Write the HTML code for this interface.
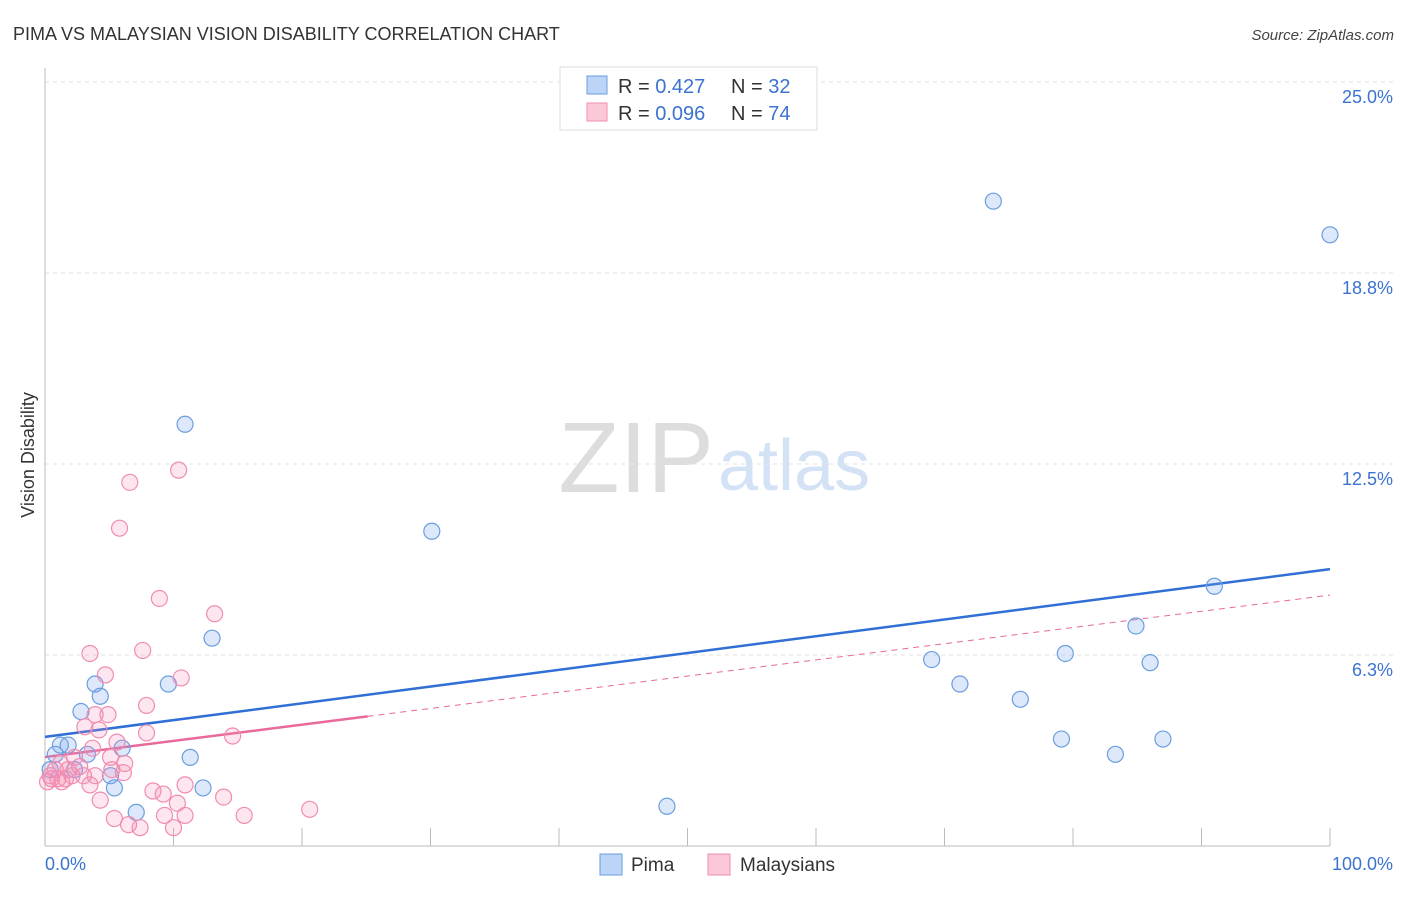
<!DOCTYPE html>
<html><head><meta charset="utf-8"><style>
body{margin:0;background:#fff;font-family:"Liberation Sans",sans-serif;}
svg text{font-family:"Liberation Sans",sans-serif;}
</style></head><body>
<svg id="chart" width="1406" height="892" xmlns="http://www.w3.org/2000/svg">
<text x="13" y="40" font-size="18" fill="#333">PIMA VS MALAYSIAN VISION DISABILITY CORRELATION CHART</text>
<text x="1394" y="40" font-size="15" fill="#444" font-style="italic" text-anchor="end">Source: ZipAtlas.com</text>
<text x="714" y="492" font-size="100" text-anchor="end" fill="#ddd" font-family="Liberation Serif">ZIP</text>
<text x="718" y="490" font-size="72" fill="#d4e2f6">atlas</text>
<text transform="translate(34,455) rotate(-90)" font-size="18" fill="#333" text-anchor="middle">Vision Disability</text>
<g id="grid"></g><g id="ticks"></g><g id="lines"></g><g id="pts"></g>
<g>
<rect x="560" y="67" width="257" height="63" fill="#fff" stroke="#ddd"/>
<rect x="587" y="76" width="20" height="18" fill="#bcd4f7" stroke="#6a9ee0"/>
<rect x="587" y="103" width="20" height="18" fill="#fbc8d8" stroke="#f08cb0"/>
<text x="618" y="93" font-size="20" fill="#333">R = <tspan fill="#3b73d0">0.427</tspan></text>
<text x="731" y="93" font-size="20" fill="#333">N = <tspan fill="#3b73d0">32</tspan></text>
<text x="618" y="120" font-size="20" fill="#333">R = <tspan fill="#3b73d0">0.096</tspan></text>
<text x="731" y="120" font-size="20" fill="#333">N = <tspan fill="#3b73d0">74</tspan></text>
</g>
<g><rect x="600" y="854" width="22" height="21" fill="#bcd4f7" stroke="#6a9ee0"/><text x="631" y="871" font-size="19" fill="#333">Pima</text></g>
<g><rect x="708" y="854" width="22" height="21" fill="#fbc8d8" stroke="#f08cb0"/><text x="740" y="871" font-size="19" fill="#333">Malaysians</text></g>
</svg>
<script>
const yTicks=[25,18.75,12.5,6.25];
const yTickLabels=["25.0%","18.8%","12.5%","6.3%"];
const xTicks=[0,10,20,30,40,50,60,70,80,90,100];
const pimaX=[73.8,100,10.9,30.1,91.0,84.9,13.0,69.0,79.4,86.0,71.2,75.9,79.1,83.3,87.0,48.4,3.9,4.3,2.8,9.6,1.2,1.8,0.8,3.3,6.0,11.3,5.1,5.4,12.3,7.1,0.4,2.3];
const pimaY=[21.1,20.0,13.8,10.3,8.5,7.2,6.8,6.1,6.3,6.0,5.3,4.8,3.5,3.0,3.5,1.3,5.3,4.9,4.4,5.3,3.3,3.3,3.0,3.0,3.2,2.9,2.3,1.9,1.9,1.1,2.5,2.5];
const malX=[10.4,6.6,5.8,8.9,13.2,7.6,3.5,4.7,10.6,7.9,3.9,4.9,3.1,4.2,7.9,14.6,5.6,3.7,2.3,5.1,6.2,1.2,2.7,1.8,0.4,1.0,1.6,2.1,3.0,3.9,5.2,6.1,0.2,1.3,3.5,8.4,10.9,9.2,4.3,13.9,10.3,20.6,9.3,10.9,15.5,5.4,6.5,7.4,10.0,0.8,0.5];
const malY=[12.3,11.9,10.4,8.1,7.6,6.4,6.3,5.6,5.5,4.6,4.3,4.3,3.9,3.8,3.7,3.6,3.4,3.2,2.9,2.9,2.7,2.7,2.6,2.5,2.3,2.2,2.2,2.3,2.3,2.3,2.5,2.4,2.1,2.1,2.0,1.8,2.0,1.7,1.5,1.6,1.4,1.2,1.0,1.0,1.0,0.9,0.7,0.6,0.6,2.5,2.2];
const pimaTrend=[3.57,9.06];
const malTrend=[2.91,8.21];
const malSolidEnd=25.1;
const X=v=>45+v/100*1285, Y=v=>846-v/25*764;
const NS="http://www.w3.org/2000/svg";
function mk(tag,attrs,parent){const e=document.createElementNS(NS,tag);for(const k in attrs)e.setAttribute(k,attrs[k]);document.getElementById(parent).appendChild(e);return e;}
yTicks.forEach((t,i)=>{
 const l=mk('line',{x1:45,x2:1394,y1:Y(t),y2:Y(t),stroke:'#e2e2e2','stroke-dasharray':'4,4'},'grid');
 
 
 const tx=mk('text',{x:1393,y:Y(t)+21,'font-size':18,fill:'#3b73d0','text-anchor':'end'},'grid');
 tx.textContent=yTickLabels[i];
 
 
});
const ax=mk('line',{x1:45,x2:1330,y1:846,y2:846,stroke:'#bbb'},'ticks');


const ay=mk('line',{x1:45,x2:45,y1:68,y2:846,stroke:'#bbb'},'ticks');


xTicks.forEach(t=>{const l=mk('line',{x1:X(t),x2:X(t),y1:828,y2:846,stroke:'#bbb'},'ticks');
 
 });
const xl0=mk('text',{x:45,y:870,'font-size':18,fill:'#3b73d0'},'ticks');xl0.textContent='0.0%';


const xl1=mk('text',{x:1393,y:870,'font-size':18,fill:'#3b73d0','text-anchor':'end'},'ticks');xl1.textContent='100.0%';


pimaX.forEach((v,i)=>{const c=mk('circle',{cx:X(v),cy:Y(pimaY[i]),r:8,fill:'rgba(120,165,235,0.25)',stroke:'#6a9ee0','stroke-width':1.2},'pts');
 
 });
malX.forEach((v,i)=>{const c=mk('circle',{cx:X(v),cy:Y(malY[i]),r:8,fill:'rgba(245,140,180,0.22)',stroke:'#f08cb0','stroke-width':1.2},'pts');
 
 });
const pl=mk('line',{x1:X(0),y1:Y(pimaTrend[0]),x2:X(100),y2:Y(pimaTrend[1]),stroke:'#2f6fd6','stroke-width':2.5},'lines');


const ms=malTrend[0]+(malTrend[1]-malTrend[0])*malSolidEnd/100;
const md=mk('line',{x1:X(malSolidEnd),y1:Y(ms),x2:X(100),y2:Y(malTrend[1]),stroke:'#e8699a','stroke-width':1,'stroke-dasharray':'6,5'},'lines');


const ml=mk('line',{x1:X(0),y1:Y(malTrend[0]),x2:X(malSolidEnd),y2:Y(ms),stroke:'#e8699a','stroke-width':2.5},'lines');


</script>
</body></html>
